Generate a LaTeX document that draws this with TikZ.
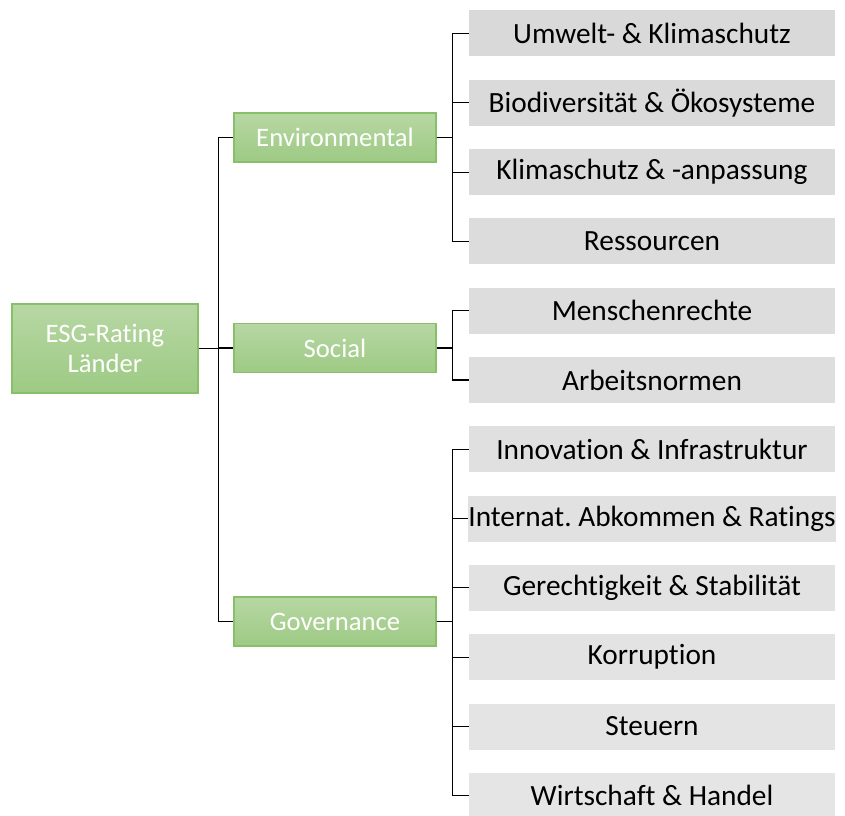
\documentclass[tikz,border=0pt]{standalone}
\usepackage{fontspec}
\setmainfont{Carlito}[Ligatures=NoCommon]
\usepackage{tikz}
\usetikzlibrary{positioning,calc}

\definecolor{greentop}{HTML}{B7D7A3}
\definecolor{greenbot}{HTML}{9DCA84}
\definecolor{greenline}{HTML}{88C06A}

\begin{document}
\frenchspacing
\begin{tikzpicture}[x=0.75pt,y=-0.75pt,
    topic/.style={draw=greenline,line width=0.8pt,top color=greentop,bottom color=greenbot,
      text=white,font=\fontsize{20}{23}\selectfont,align=center,inner sep=0pt},
    leaf/.style={fill=#1,minimum width=274.5pt,minimum height=34.5pt,inner sep=0pt,
      font=\fontsize{22}{26}\selectfont},
    conn/.style={line width=0.8pt}]
  \useasboundingbox (0,0) rectangle (845,816);
  % root and the three pillars
  \node[topic,minimum width=139.5pt,minimum height=66.75pt] (root) at (105,348.5) {ESG-Rating\\L\"ander};
  \node[topic,minimum width=151.5pt,minimum height=36.75pt] (env) at (335,137.5) {Environmental};
  \node[topic,minimum width=151.5pt,minimum height=36.75pt] (soc) at (335,348) {Social};
  \node[topic,minimum width=151.5pt,minimum height=36.75pt] (gov) at (335,621.5) {Governance};
  % leaves
  \foreach \i/\name/\txt/\grp in {
      0/l0/{Umwelt- \& Klimaschutz}/env,
      1/l1/{Biodiversit\"at \& \"Okosysteme}/env,
      2/l2/{Klimaschutz \& -anpassung}/env,
      3/l3/{Ressourcen}/env,
      4/l4/{Menschenrechte}/soc,
      5/l5/{Arbeitsnormen}/soc,
      6/l6/{Innovation \& Infrastruktur}/gov,
      7/l7/{Internat. Abkommen \& Ratings}/gov,
      8/l8/{Gerechtigkeit \& Stabilit\"at}/gov,
      9/l9/{Korruption}/gov,
      10/l10/{Steuern}/gov,
      11/l11/{Wirtschaft \& Handel}/gov} {
    \pgfmathsetmacro{\tone}{15-\i*0.45}
    \node[leaf={black!\tone}] (\name) at (652,33.5+\i*69.3) {\txt};
    \draw[conn] (\grp.east) -- ++(16,0) |- (\name.west);
  }
  % root to pillars
  \draw[line width=1.4pt] (root.east) -- ++(20,0) coordinate (spine);
  \foreach \p in {env,soc,gov}
    \draw[conn] (spine) |- (\p.west);
\end{tikzpicture}
\end{document}
